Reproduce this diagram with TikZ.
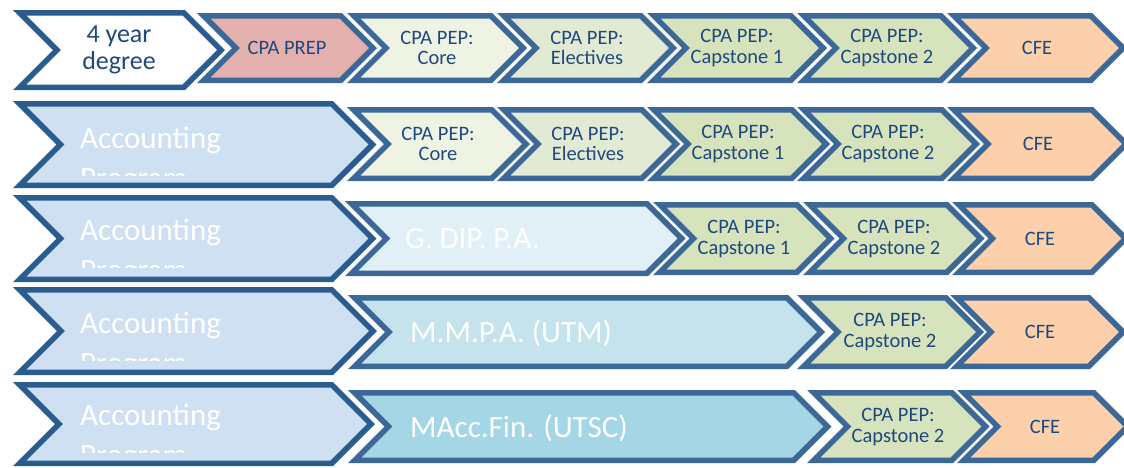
\documentclass[tikz,border=0pt]{standalone}
\usepackage{fontspec}
\setmainfont{Carlito}
\usepackage{xcolor}
\usepackage{tikz}
\definecolor{CPLine}{HTML}{3B6897}
\definecolor{CPLineDark}{HTML}{2B5C90}
\definecolor{CPText}{HTML}{1F497D}
\definecolor{CPPrep}{HTML}{E4B0AE}
\definecolor{CPCore}{HTML}{EEF3E4}
\definecolor{CPElect}{HTML}{E2EAD4}
\definecolor{CPCap}{HTML}{D7E3BC}
\definecolor{CPCfe}{HTML}{FBD0AB}
\definecolor{CPAcct}{HTML}{CFE0F2}
\definecolor{CPGdip}{HTML}{E1EFF7}
\definecolor{CPMmpa}{HTML}{C4E3EC}
\definecolor{CPMacc}{HTML}{A4D6E6}

\tikzset{
  chev/.style={draw=CPLine,line width=5.5pt,line join=miter,
    preaction={draw=white,line width=9pt}},
  chevdark/.style={chev,draw=CPLineDark},
  stagetext/.style={text=CPText,align=center,font=\fontsize{20.5}{20.5}\selectfont},
  progtext/.style={text=white,anchor=base west,inner sep=0pt,font=\fontsize{31}{31}\selectfont},
}
% chevron: #1 style, #2 left x, #3 corner x, #4 top y, #5 bottom y (outer edges)
\newcommand{\chevron}[5]{%
  \path[#1] ({#2+6.64},{#4+2.75}) -- ({#3-1.14},{#4+2.75})
    -- ({#3-1.14+(#5-#4)/2-2.75},{(#4+#5)/2}) -- ({#3-1.14},{#5-2.75})
    -- ({#2+6.64},{#5-2.75}) -- ({#2+6.64+(#5-#4)/2-2.75},{(#4+#5)/2}) -- cycle;}

\begin{document}
\begin{tikzpicture}[x=1pt,y=-1pt]
\path[use as bounding box] (0,0) rectangle (1124,467);

% row 1
\chevron{chevdark,fill=white}{13}{185}{10}{90}
\node (degree) [stagetext,font=\fontsize{26}{27}\selectfont] at (119,50) {4 year\\degree};
\chevron{chev,fill=CPPrep}{197}{342}{13}{83}
\node (prep) [stagetext] at (287,48) {CPA PREP};
\chevron{chev,fill=CPCore}{347}{492}{13}{83}
\node (coreA) [stagetext] at (437,48) {CPA PEP:\\Core};
\chevron{chev,fill=CPElect}{497}{642}{13}{83}
\node (electA) [stagetext] at (587,48) {CPA PEP:\\Electives};
\chevron{chev,fill=CPCap}{647}{792}{13}{83}
\node (capAa) [stagetext] at (737,48) {CPA PEP:\\Capstone 1};
\chevron{chev,fill=CPCap}{797}{942}{13}{83}
\node (capAb) [stagetext] at (887,48) {CPA PEP:\\Capstone 2};
\chevron{chev,fill=CPCfe}{947}{1092}{13}{83}
\node (cfeA) [stagetext] at (1037,48) {CFE};

% row 2
\chevron{chevdark,fill=CPAcct}{13}{333}{101}{188}
\node (acctB) [progtext] at (80,148) {Accounting};
\begin{scope}
\clip (13,101) rectangle (333,175);
\node (progB) [progtext] at (80,188) {Program};
\end{scope}
\chevron{chev,fill=CPCore}{347}{493}{107}{181}
\node (coreB) [stagetext] at (438,144) {CPA PEP:\\Core};
\chevron{chev,fill=CPElect}{497}{643}{107}{181}
\node (electB) [stagetext] at (588,144) {CPA PEP:\\Electives};
\chevron{chev,fill=CPCap}{647}{793}{107}{181}
\node (capBa) [stagetext] at (738,144) {CPA PEP:\\Capstone 1};
\chevron{chev,fill=CPCap}{797}{943}{107}{181}
\node (capBb) [stagetext] at (888,144) {CPA PEP:\\Capstone 2};
\chevron{chev,fill=CPCfe}{947}{1093}{107}{181}
\node (cfeB) [stagetext] at (1038,144) {CFE};

% row 3
\chevron{chevdark,fill=CPAcct}{13}{333}{195}{282}
\node (acctC) [progtext] at (80,240) {Accounting};
\begin{scope}
\clip (13,195) rectangle (333,267);
\node (progC) [progtext] at (80,280) {Program};
\end{scope}
\chevron{chev,fill=CPGdip}{345}{648}{201}{276}
\node (gdip) [progtext] at (405,248) {G. DIP. P.A.};
\chevron{chev,fill=CPCap}{653}{798}{202}{275}
\node (capCa) [stagetext] at (744,239) {CPA PEP:\\Capstone 1};
\chevron{chev,fill=CPCap}{803}{948}{202}{275}
\node (capCb) [stagetext] at (894,239) {CPA PEP:\\Capstone 2};
\chevron{chev,fill=CPCfe}{952}{1093}{202}{275}
\node (cfeC) [stagetext] at (1040,239) {CFE};

% row 4
\chevron{chevdark,fill=CPAcct}{13}{333}{287}{375}
\node (acctD) [progtext] at (80,333) {Accounting};
\begin{scope}
\clip (13,287) rectangle (333,360);
\node (progD) [progtext] at (80,373) {Program};
\end{scope}
\chevron{chev,fill=CPMmpa}{348}{788}{295}{369}
\node (mmpa) [progtext] at (410,342) {M.M.P.A. (UTM)};
\chevron{chev,fill=CPCap}{797}{947}{295}{369}
\node (capDb) [stagetext] at (890,332) {CPA PEP:\\Capstone 2};
\chevron{chev,fill=CPCfe}{950}{1090}{295}{369}
\node (cfeD) [stagetext] at (1040,332) {CFE};

% row 5
\chevron{chevdark,fill=CPAcct}{13}{333}{382}{466}
\node (acctE) [progtext] at (80,425) {Accounting};
\begin{scope}
\clip (13,382) rectangle (333,452);
\node (progE) [progtext] at (80,465) {Program};
\end{scope}
\chevron{chev,fill=CPMacc}{348}{795}{390}{463}
\node (macc) [progtext] at (410,437) {MAcc.Fin. (UTSC)};
\chevron{chev,fill=CPCap}{807}{953}{390}{463}
\node (capEb) [stagetext] at (898,427) {CPA PEP:\\Capstone 2};
\chevron{chev,fill=CPCfe}{957}{1095}{390}{463}
\node (cfeE) [stagetext] at (1045,427) {CFE};
\end{tikzpicture}
\end{document}
